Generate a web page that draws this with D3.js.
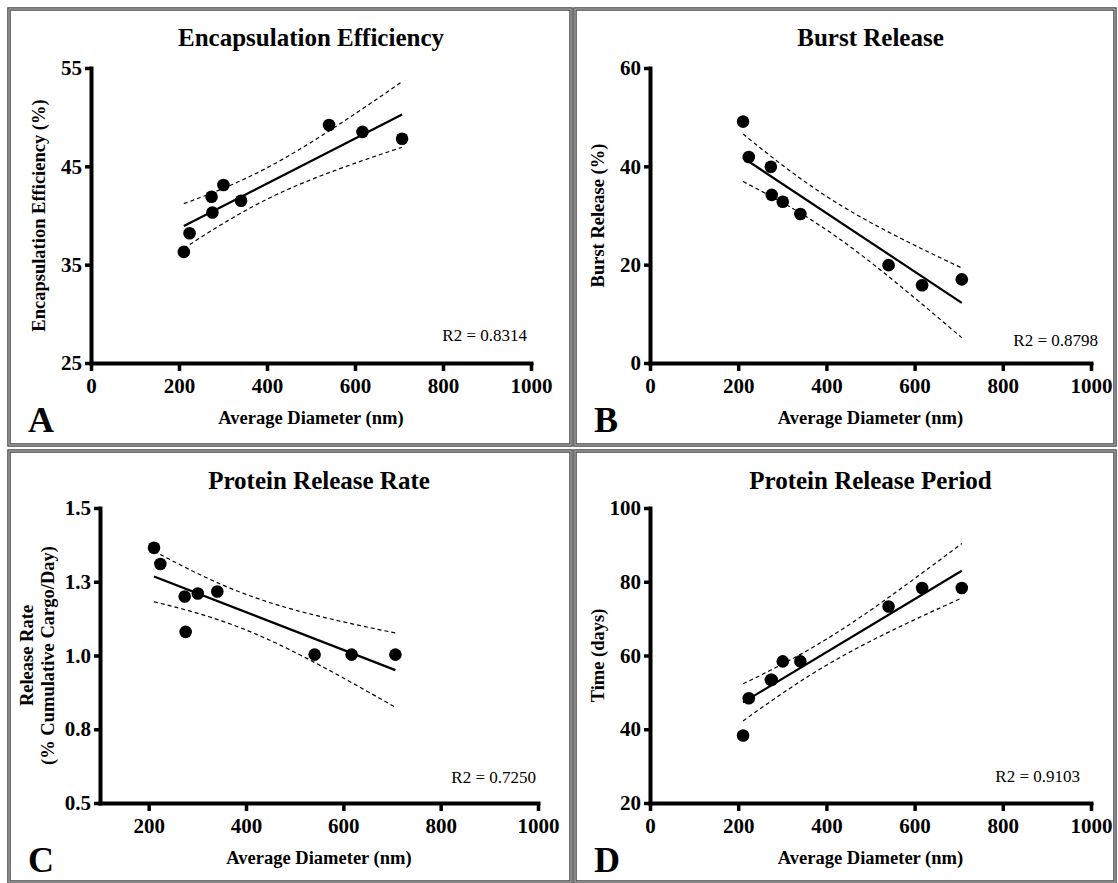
<!DOCTYPE html>
<html>
<head>
<meta charset="utf-8">
<script src="https://cdnjs.cloudflare.com/ajax/libs/d3/7.8.5/d3.min.js"></script>
<style>
body { margin: 0; background: #fff; }
svg text { font-family: 'Liberation Serif', 'Times New Roman', serif; fill: #000; }
svg .axis path.domain { stroke: #000; stroke-width: 4px; stroke-linecap: square; }
svg .axis .tick line { stroke: #000; stroke-width: 3.5px; }
svg .axis .tick text { font-size: 21px; font-weight: bold; }
</style>
</head>
<body>
<div id="chart"></div>
<script>
// Average diameter of each particle batch (nm), shared by all panels
var diameters = [211, 224, 274, 276, 301, 341, 541, 617, 707];

// Measured values, one per batch
var encapsulation = [36.3, 38.2, 41.9, 40.3, 43.1, 41.5, 49.2, 48.5, 47.8];
var burstRelease = [49.1, 41.9, 39.9, 34.2, 32.8, 30.3, 19.9, 15.8, 17.0];
var releaseRate = [1.365, 1.31, 1.20, 1.08, 1.21, 1.217, 1.003, 1.003, 1.003];
var releasePeriod = [38.3, 48.4, 53.4, 53.4, 58.4, 58.4, 73.3, 78.3, 78.3];

var titles = ['Encapsulation Efficiency', 'Burst Release', 'Protein Release Rate', 'Protein Release Period'];
var yTitles = [['Encapsulation Efficiency (%)'], ['Burst Release (%)'], ['Release Rate', '(% Cumulative Cargo/Day)'], ['Time (days)']];
var xTitle = 'Average Diameter (nm)';
var panelLetters = ['A', 'B', 'C', 'D'];
var r2Labels = ['R2 = 0.8314', 'R2 = 0.8798', 'R2 = 0.7250', 'R2 = 0.9103'];

var xTicks = [0, 200, 400, 600, 800, 1000];
var xTicksC = [200, 400, 600, 800, 1000];
var yTicksA = [25, 35, 45, 55];
var yTicksB = [0, 20, 40, 60];
var yTicksC = [0.5, 0.75, 1.0, 1.25, 1.5];
var yTickLabelsC = ['0.5', '0.8', '1.0', '1.3', '1.5'];
var yTicksD = [20, 40, 60, 80, 100];

// two sided 95% t value, 7 degrees of freedom (9 points)
var T_CRIT = 2.365;

var width = 1118, height = 883;
var svg = d3.select('#chart').append('svg')
    .attr('width', width)
    .attr('height', height);

var Panel = function(configuration) {
    this.configure(configuration);
};

Panel.prototype.configure = function(configuration) {
    this.c = configuration;
    this.x = d3.scaleLinear().domain(configuration.xDomain).range([configuration.left, configuration.right]);
    this.y = d3.scaleLinear().domain(configuration.yDomain).range([configuration.bottom, configuration.top]);
    this.g = svg.append('g');
};

Panel.prototype.fit = function() {
    var xs = this.c.xs, ys = this.c.ys, n = xs.length;
    var mx = d3.mean(xs), my = d3.mean(ys);
    var sxx = d3.sum(xs, function(x) { return (x - mx) * (x - mx); });
    var sxy = d3.sum(xs, function(x, i) { return (x - mx) * (ys[i] - my); });
    var slope = sxy / sxx;
    var intercept = my - slope * mx;
    var sse = d3.sum(xs, function(x, i) {
        var r = ys[i] - (intercept + slope * x);
        return r * r;
    });
    var s = Math.sqrt(sse / (n - 2));
    return {
        predict: function(x) { return intercept + slope * x; },
        half: function(x) { return T_CRIT * s * Math.sqrt(1 / n + (x - mx) * (x - mx) / sxx); }
    };
};

Panel.prototype.drawFrame = function() {
    var b = this.c.box;
    this.g.append('rect')
        .attr('x', b[0]).attr('y', b[1]).attr('width', b[2]).attr('height', b[3])
        .attr('fill', 'none').attr('stroke', '#444').attr('stroke-width', 3.5);
    this.g.append('rect')
        .attr('x', b[0]).attr('y', b[1]).attr('width', b[2]).attr('height', b[3])
        .attr('fill', 'none').attr('stroke', '#c8c8c8').attr('stroke-width', 1);
};

Panel.prototype.drawAxes = function() {
    var c = this.c;
    var xAxis = d3.axisBottom(this.x)
        .tickValues(c.xTicks)
        .tickSize(8)
        .tickSizeOuter(0)
        .tickPadding(7)
        .tickFormat(d3.format('d'));
    var yAxis = d3.axisLeft(this.y)
        .tickValues(c.yTicks)
        .tickSize(6)
        .tickSizeOuter(0)
        .tickPadding(3)
        .tickFormat(function(d, i) { return c.yLabels ? c.yLabels[i] : d; });

    this.g.append('g')
        .attr('class', 'axis')
        .attr('transform', 'translate(0,' + c.bottom + ')')
        .call(xAxis);

    this.g.append('g')
        .attr('class', 'axis')
        .attr('transform', 'translate(' + c.left + ',0)')
        .call(yAxis);
};

Panel.prototype.drawFit = function() {
    var x = this.x, y = this.y;
    var model = this.fit();
    var lo = d3.min(this.c.xs), hi = d3.max(this.c.xs);
    var steps = d3.range(41).map(function(i) { return lo + (hi - lo) * i / 40; });
    var line = d3.line()
        .x(function(d) { return x(d[0]); })
        .y(function(d) { return y(d[1]); });

    this.g.append('path')
        .datum(steps.map(function(v) { return [v, model.predict(v) + model.half(v)]; }))
        .attr('fill', 'none').attr('stroke', '#000')
        .attr('stroke-width', 1.2).attr('stroke-dasharray', '4,3')
        .attr('d', line);
    this.g.append('path')
        .datum(steps.map(function(v) { return [v, model.predict(v) - model.half(v)]; }))
        .attr('fill', 'none').attr('stroke', '#000')
        .attr('stroke-width', 1.2).attr('stroke-dasharray', '4,3')
        .attr('d', line);
    this.g.append('path')
        .datum([[lo, model.predict(lo)], [hi, model.predict(hi)]])
        .attr('fill', 'none').attr('stroke', '#000')
        .attr('stroke-width', 2.2)
        .attr('d', line);
};

Panel.prototype.drawPoints = function() {
    var x = this.x, y = this.y, ys = this.c.ys;
    this.g.append('g').selectAll('circle')
        .data(this.c.xs)
        .join('circle')
        .attr('cx', function(d) { return x(d); })
        .attr('cy', function(d, i) { return y(ys[i]); })
        .attr('r', 6.3)
        .attr('fill', '#000');
};

Panel.prototype.drawTexts = function() {
    var c = this.c;
    var midX = (c.left + c.right) / 2;
    var midY = (c.top + c.bottom) / 2;

    this.g.append('text')
        .attr('x', midX).attr('y', c.titleY)
        .attr('text-anchor', 'middle')
        .attr('font-size', 25).attr('font-weight', 'bold')
        .text(c.title);

    this.g.append('text')
        .attr('x', midX).attr('y', c.bottom + 61)
        .attr('text-anchor', 'middle')
        .attr('font-size', 18.5).attr('font-weight', 'bold')
        .text(xTitle);

    var lines = c.yTitle;
    lines.forEach(function(t, i) {
        var cx = c.left - 52 - (lines.length - 1 - i) * 21;
        this.g.append('text')
            .attr('transform', 'translate(' + cx + ',' + midY + ') rotate(-90)')
            .attr('text-anchor', 'middle')
            .attr('dy', '0.35em')
            .attr('font-size', 18.5).attr('font-weight', 'bold')
            .text(t);
    }, this);

    this.g.append('text')
        .attr('x', c.box[0] + 19).attr('y', c.bottom + 69)
        .attr('font-size', 36).attr('font-weight', 'bold')
        .text(c.letter);

    this.g.append('text')
        .attr('x', c.right + c.r2dx).attr('y', c.bottom + c.r2dy)
        .attr('text-anchor', 'end')
        .attr('font-size', 17)
        .text(c.r2);
};

Panel.prototype.draw = function() {
    this.drawFrame();
    this.drawFit();
    this.drawAxes();
    this.drawPoints();
    this.drawTexts();
};

var panels = [
    {box: [9, 9, 562, 436], left: 91, right: 531, top: 68, bottom: 363, titleY: 46,
     xDomain: [0, 1000], yDomain: [25, 55], xTicks: xTicks, yTicks: yTicksA,
     ys: encapsulation, r2dx: -4, r2dy: -22},
    {box: [575, 9, 540, 436], left: 650, right: 1091, top: 68, bottom: 363, titleY: 46,
     xDomain: [0, 1000], yDomain: [0, 60], xTicks: xTicks, yTicks: yTicksB,
     ys: burstRelease, r2dx: 7, r2dy: -17},
    {box: [9, 451, 562, 431], left: 100, right: 538, top: 508, bottom: 803, titleY: 489,
     xDomain: [100, 1000], yDomain: [0.5, 1.5], xTicks: xTicksC, yTicks: yTicksC, yLabels: yTickLabelsC,
     ys: releaseRate, r2dx: -2, r2dy: -20},
    {box: [575, 451, 540, 431], left: 650, right: 1091, top: 508, bottom: 803, titleY: 489,
     xDomain: [0, 1000], yDomain: [20, 100], xTicks: xTicks, yTicks: yTicksD,
     ys: releasePeriod, r2dx: -11, r2dy: -21}
];

panels.forEach(function(p, i) {
    p.xs = diameters;
    p.title = titles[i];
    p.yTitle = yTitles[i];
    p.letter = panelLetters[i];
    p.r2 = r2Labels[i];
    new Panel(p).draw();
});
</script>
</body>
</html>
